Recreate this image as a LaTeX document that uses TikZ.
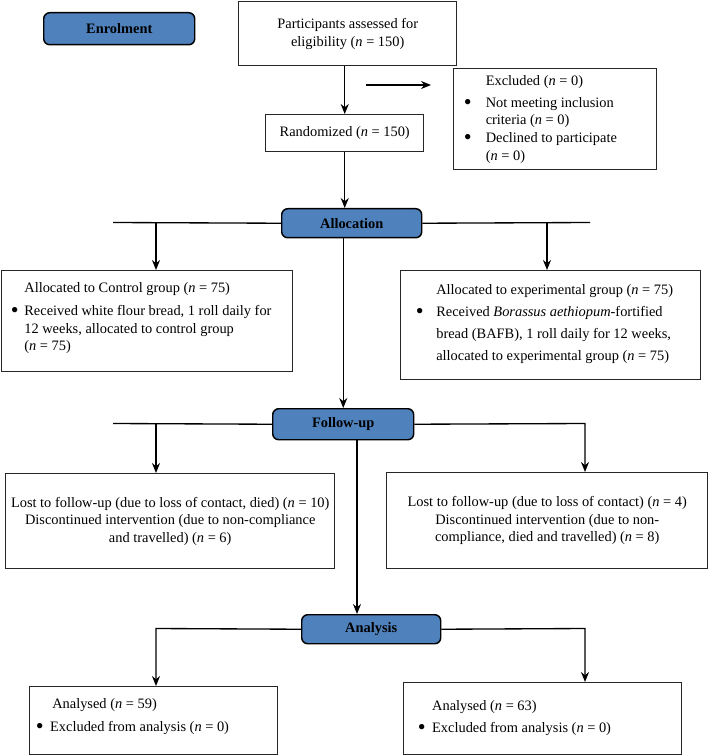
\documentclass[tikz,border=0pt]{standalone}
\usepackage{fontspec}
\setmainfont{Liberation Serif}
\usetikzlibrary{arrows.meta}
\definecolor{hdrblue}{HTML}{4F81BD}
\newcommand{\nn}{\textit{n}}
\newcommand{\bigbul}{\raisebox{-0.32ex}{\scalebox{1.55}{\textbullet}}}
\newcommand{\bulbox}[1]{\makebox[#1][l]{\bigbul}}
\begin{document}
\begin{tikzpicture}[x=0.75pt,y=-0.75pt,
  every node/.style={font=\fontsize{10.8pt}{13.2pt}\selectfont},
  sz/.style 2 args={minimum width=#1*0.75pt, minimum height=#2*0.75pt},
  box/.style={draw=black!85, line width=1.1pt, inner sep=0pt, anchor=north west, align=center},
  hdr/.style={draw=black, line width=1.1pt, fill=hdrblue, rounded corners=4.5pt, inner sep=0pt,
    anchor=north west, font=\fontsize{10.8pt}{13.2pt}\selectfont\bfseries},
  txt/.style={inner sep=0pt, align=left, anchor=north west},
  arr/.style={line width=1pt, -{Stealth[length=7.5pt,width=6pt]}},
  ln/.style={line width=1pt}]
\useasboundingbox (0,0) rectangle (708,755);

% header boxes
\node[hdr, sz={151}{32}] (enrol) at (43,12) {Enrolment};
\node[hdr, sz={140}{29}] (alloc) at (281,208) {Allocation};
\node[hdr, sz={141}{31}] (follow) at (272,408) {Follow-up};
\node[hdr, sz={139}{29}] (anal) at (301,614) {Analysis};

% plain boxes
\node[box, sz={218}{64}] (part) at (238,1) {Participants assessed for\\eligibility (\nn{} = 150)};
\node[box, sz={158}{37}] (rand) at (265,114) {Randomized (\nn{} = 150)};
\node[box, sz={203}{101}] (excl) at (453,68) {};
\node[box, sz={291}{101}] (ctrl) at (1,270) {};
\node[box, sz={300}{109}] (exp) at (400,270) {};
\node[box, sz={329}{95}] (lostL) at (5,473) {Lost to follow-up (due to loss of contact, died) (\nn{} = 10)\\Discontinued intervention (due to non-compliance\\and travelled) (\nn{} = 6)};
\node[box, sz={321}{96}] (lostR) at (386,472) {Lost to follow-up (due to loss of contact) (\nn{} = 4)\\Discontinued intervention (due to non-\\compliance, died and travelled) (\nn{} = 8)};
\node[box, sz={248}{68}] (aL) at (29,686) {};
\node[box, sz={278}{72}] (aR) at (403,682) {};

% texts in boxes
\node[txt] (exclT) at (463.5,75.5) {\hspace*{16.5pt}Excluded (\nn{} = 0)\\[3pt]
  \bulbox{16.5pt}Not meeting inclusion\\
  \hspace*{16.5pt}criteria (\nn{} = 0)\\
  \bulbox{16.5pt}Declined to participate\\
  \hspace*{16.5pt}(\nn{} = 0)};
\node[txt] (ctrlT) at (10.5,282.5) {\hspace*{10.2pt}Allocated to Control group (\nn{} = 75)\\[4pt]
  \bulbox{10.2pt}Received white flour bread, 1 roll daily for\\
  \hspace*{10.2pt}12 weeks, allocated to control group\\
  \hspace*{10.2pt}(\nn{} = 75)};
\node[txt, font=\fontsize{10.8pt}{16.5pt}\selectfont] (expT) at (415.5,284.5) {\hspace*{15.4pt}Allocated to experimental group (\nn{} = 75)\\
  \bulbox{15.4pt}Received \textit{Borassus aethiopum}-fortified\\
  \hspace*{15.4pt}bread (BAFB), 1 roll daily for 12 weeks,\\
  \hspace*{15.4pt}allocated to experimental group (\nn{} = 75)};
\node[txt] (aLT) at (35.5,698.5) {\hspace*{12.4pt}Analysed (\nn{} = 59)\\[4pt]
  \bulbox{10.8pt}Excluded from analysis (\nn{} = 0)};
\node[txt] (aRT) at (417.5,700.5) {\hspace*{10.8pt}Analysed (\nn{} = 63)\\[3pt]
  \bulbox{10.8pt}Excluded from analysis (\nn{} = 0)};

% helper coordinates
\coordinate (exA) at (366,85);
\coordinate (exB) at (431,85);
\coordinate (allocL) at (113,222.5);
\coordinate (allocR) at (590,222.5);
\coordinate (cL) at (156,222.5);
\coordinate (cR) at (547,222.5);
\coordinate (fL) at (113,423.5);
\coordinate (fLd) at (156,423.5);
\coordinate (fRd) at (585,423.5);
\coordinate (fdown) at (357,0);
\coordinate (aLd) at (156,628.5);
\coordinate (aRd) at (585,628.5);

% connectors
\draw[arr] (part.south -| rand.north) -- (rand.north);
\draw[arr] (exA) -- (exB);
\draw[arr] (rand.south) -- (rand.south |- alloc.north);
\draw[ln] (alloc.west) -- (allocL);
\draw[ln] (alloc.east) -- (allocR);
\draw[arr] (cL) -- (cL |- ctrl.north);
\draw[arr] (cR) -- (cR |- exp.north);
\draw[arr] (alloc.south -| follow.north) -- (follow.north);
\draw[ln] (follow.west) -- (fL);
\draw[arr] (fLd) -- (fLd |- lostL.north);
\draw[arr] (follow.east) -- (fRd) -- (fRd |- lostR.north);
\draw[arr] (follow.south -| fdown) -- (anal.north -| fdown);
\draw[arr] (anal.west) -- (aLd) -- (aLd |- aL.north);
\draw[arr] (anal.east) -- (aRd) -- (aRd |- aR.north);
\end{tikzpicture}
\end{document}
